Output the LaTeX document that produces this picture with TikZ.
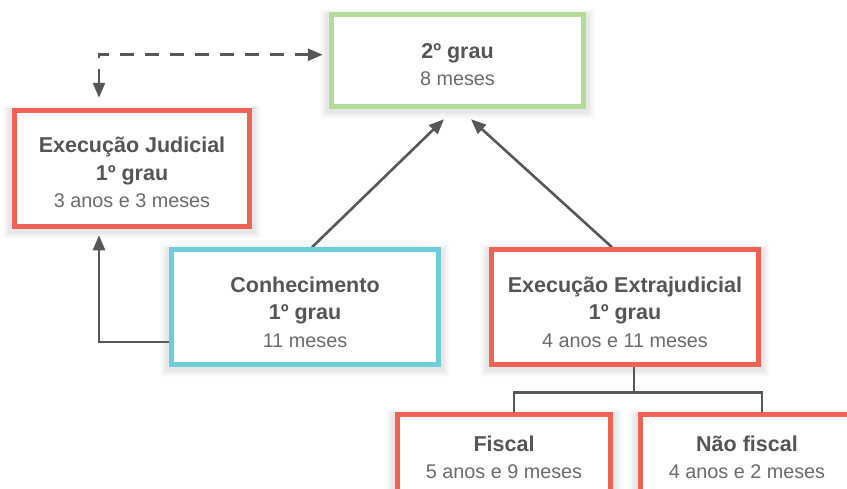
\documentclass[tikz,border=0pt]{standalone}
\usepackage{fontspec}
\setmainfont{Liberation Sans}
\usetikzlibrary{arrows.meta}
\definecolor{redbox}{HTML}{EF6256}
\definecolor{greenbox}{HTML}{B4DC97}
\definecolor{cyanbox}{HTML}{6DCDD8}
\definecolor{ink}{HTML}{555555}
\definecolor{softink}{HTML}{6A6A6A}
\definecolor{connink}{HTML}{575757}
\pgfdeclarelayer{paperlayer}
\pgfdeclarelayer{shadowlayer}
\pgfdeclarelayer{linelayer}
\pgfsetlayers{paperlayer,shadowlayer,linelayer,main}
\newcommand{\boxtitle}[1]{{\fontsize{21.5}{27.5}\selectfont\bfseries #1}}
\newcommand{\boxsubline}[1]{{\fontsize{19.8}{27.5}\selectfont\color{softink}#1}}
\begin{document}
\begin{tikzpicture}[x=1pt,y=-1pt,
  box/.style={draw, line width=4.5pt, fill=white, inner sep=0pt},
  boxtext/.style={inner sep=0pt, align=center, text=ink, font=\fontsize{20}{27.5}\selectfont},
  redframe/.style={box, draw=redbox},
  greenframe/.style={box, draw=greenbox},
  cyanframe/.style={box, draw=cyanbox},
  conn/.style={draw=connink, line width=2.6pt},
  arrowconn/.style={conn, -{Triangle[length=15pt,width=12pt]}},
  dashconn/.style={conn, dash pattern=on 14pt off 11pt, {Triangle[length=15pt,width=12pt]}-{Triangle[length=15pt,width=12pt]}}
]
\begin{pgfonlayer}{paperlayer}
\fill[white] (0,0) rectangle (847,488);
\end{pgfonlayer}
\useasboundingbox (0,0) rectangle (847,488);

\node[greenframe, minimum width=252pt, minimum height=92pt] (g2) at (457.5,60.5) {};
\node[boxtext] (g2t) at ([yshift=-4pt]g2.center)
  {\boxtitle{2º grau}\\\boxsubline{8 meses}};
\node[redframe, minimum width=235pt, minimum height=116pt] (ej) at (132,168.5) {};
\node[boxtext] (ejt) at ([yshift=-4pt]ej.center)
  {\boxtitle{Execução Judicial}\\\boxtitle{1º grau}\\\boxsubline{3 anos e 3 meses}};
\node[cyanframe, minimum width=267pt, minimum height=115pt] (cn) at (305,307) {};
\node[boxtext] (cnt) at ([yshift=-5pt]cn.center)
  {\boxtitle{Conhecimento}\\\boxtitle{1º grau}\\\boxsubline{11 meses}};
\node[redframe, minimum width=267pt, minimum height=115pt] (ex) at (625,307) {};
\node[boxtext] (ext) at ([yshift=-5pt]ex.center)
  {\boxtitle{Execução Extrajudicial}\\\boxtitle{1º grau}\\\boxsubline{4 anos e 11 meses}};
\node[redframe, minimum width=213pt, minimum height=92pt] (fi) at (504,460.5) {};
\node[boxtext] (fit) at ([yshift=3pt]fi.center)
  {\boxtitle{Fiscal}\\\boxsubline{5 anos e 9 meses}};
\node[redframe, minimum width=213pt, minimum height=92pt] (nf) at (747,460.5) {};
\node[boxtext] (nft) at ([yshift=3pt]nf.center)
  {\boxtitle{Não fiscal}\\\boxsubline{4 anos e 2 meses}};

\begin{pgfonlayer}{shadowlayer}
  \foreach \n in {g2,ej,cn,ex,fi,nf}{
    \foreach \i in {1,...,8}{
      \fill[black, opacity=0.012]
        ([xshift=-2pt-0.9pt*\i, yshift=-3pt-0.9pt*\i]\n.south west)
        rectangle ([xshift=2pt+0.9pt*\i, yshift=0.6pt*\i-2pt]\n.north east);
    }
  }
\end{pgfonlayer}

\begin{pgfonlayer}{linelayer}
  \coordinate (dcorner) at ([xshift=-33pt, yshift=53.5pt]ej.north);
  \draw[dashconn, shorten <=10.5pt, shorten >=6.5pt]
    (dcorner |- ej.north) -- (dcorner) -- (dcorner -| g2.west);
  \draw[arrowconn] ([xshift=7pt]cn.north) -- ([xshift=-13.5pt, yshift=-10.5pt]g2.south);
  \draw[arrowconn] ([xshift=-13pt]ex.north) -- ([xshift=13.5pt, yshift=-10.5pt]g2.south);
  \draw[arrowconn] ([yshift=-35pt]cn.west) -| ([xshift=-33pt, yshift=-6.5pt]ej.south);
  \coordinate (split) at ([xshift=9pt, yshift=-26pt]ex.south);
  \draw[conn] ([xshift=9pt]ex.south) -- (split);
  \draw[conn] ([xshift=10pt]fi.north) |- (split) -| ([xshift=15pt]nf.north);
\end{pgfonlayer}
\end{tikzpicture}
\end{document}
